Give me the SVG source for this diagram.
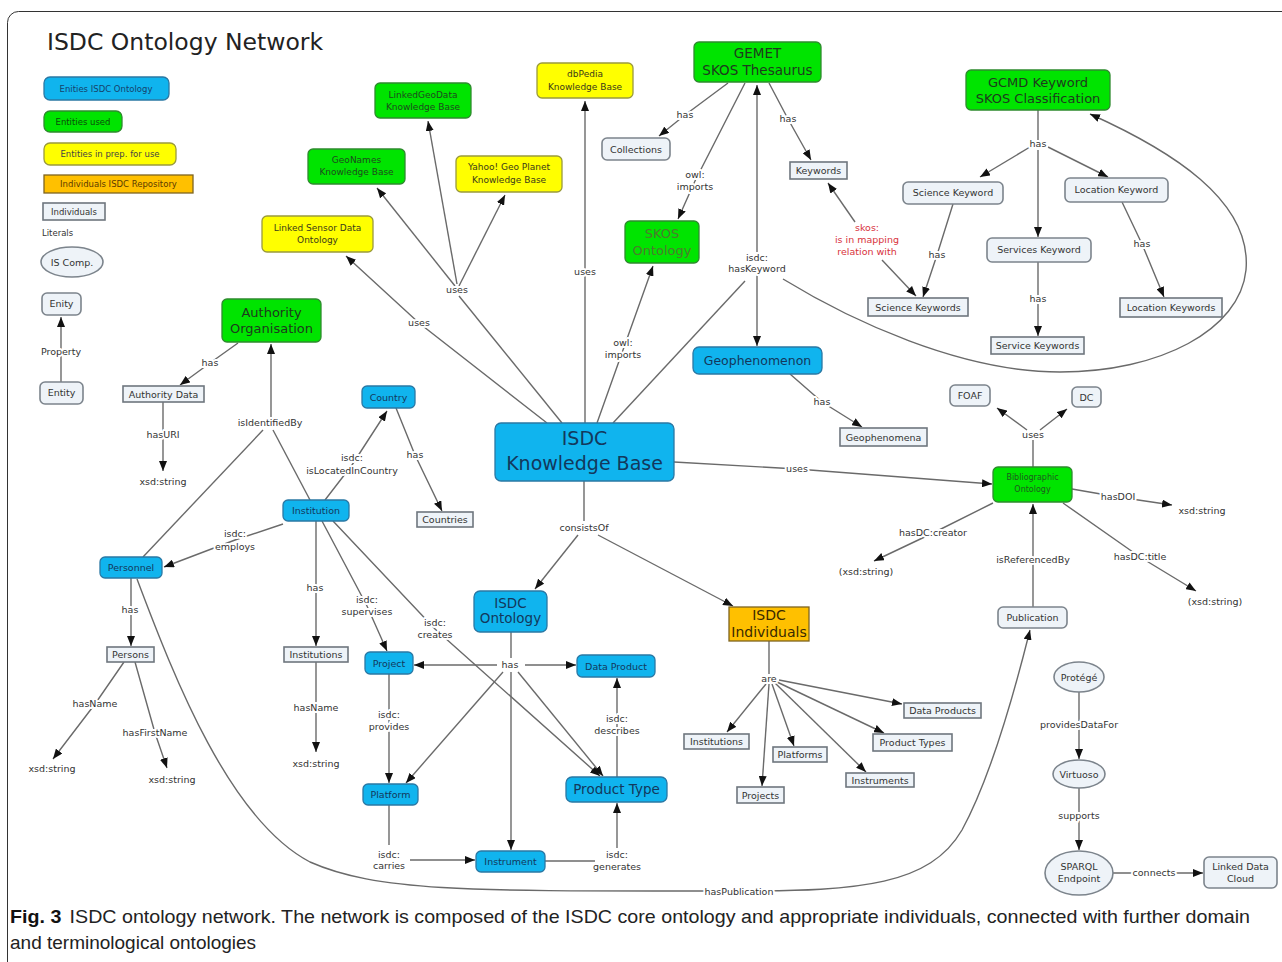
<svg xmlns="http://www.w3.org/2000/svg" width="1282" height="962" viewBox="0 0 1282 962">
<defs>
<marker id="ah" markerUnits="userSpaceOnUse" markerWidth="10" markerHeight="8" refX="10" refY="4" orient="auto"><path d="M0,0 L10,4 L0,8 z" fill="#111"/></marker>
<style>
text{font-family:"DejaVu Sans",Verdana,sans-serif;text-anchor:middle}
.blue{fill:#10B4EE;stroke:#2A78A4;stroke-width:1.3}
.green{fill:#00E400;stroke:#2E8A2E;stroke-width:1.3}
.yellow{fill:#FFFF00;stroke:#9A9A3C;stroke-width:1.3}
.orange{fill:#FFC000;stroke:#7E6420;stroke-width:1.3}
.light{fill:#EEF3F8;stroke:#7C848C;stroke-width:1.6}
.sq{fill:#EEF3F8;stroke:#6E767E;stroke-width:1.6}
.tb{fill:#13385C;font-size:9.5px}
.tg{fill:#1E4A1E;font-size:9px}
.ty{fill:#3A3A1A;font-size:9px}
.tl{fill:#333;font-size:9.5px}
.lit{fill:#333;font-size:9.5px}
.lab{fill:#333;font-size:9.5px;stroke:#fff;stroke-width:4px;paint-order:stroke;stroke-linejoin:round}
.red{fill:#D8323C}
.c{fill:none;stroke:#6A6A6A;stroke-width:1.4}
.a{marker-end:url(#ah)}
.cap{font-family:"Liberation Sans",Arial,sans-serif;font-size:19px;text-anchor:start;fill:#222}
</style>
</defs>
<rect x="0" y="0" width="1282" height="962" fill="#fff"/>
<rect x="7.5" y="11.5" width="1320" height="1000" rx="11" fill="none" stroke="#333" stroke-width="1"/>
<text x="47" y="50" style="font-size:23.5px;text-anchor:start;fill:#222">ISDC Ontology Network</text>

<g id="connectors">
<path class="c a" d="M61,382 L61,317"/>
<path class="c a" d="M547,423 L419,323 L346,256"/>
<path class="c" d="M562,423 L459,296"/>
<path class="c a" d="M455,286 L377,188"/>
<path class="c a" d="M457,284 L428,121"/>
<path class="c a" d="M459,286 L505,195"/>
<path class="c a" d="M585,423 L585,101"/>
<path class="c a" d="M597,423 L623,350 L653,266"/>
<path class="c" d="M613,423 L745,281"/>
<path class="c a" d="M757,252 L757,85"/>
<path class="c a" d="M757,275 L757,346"/>
<path class="c a" d="M783,279 C850,320 960,372 1060,372 C1160,372 1240,330 1246,270 C1252,200 1170,150 1090,114"/>
<path class="c a" d="M728,83 L685,115 L659,136"/>
<path class="c a" d="M745,83 L695,181 L678,219"/>
<path class="c a" d="M769,83 L788,119 L811,160"/>
<path class="c a" d="M855,222 L828,183"/>
<path class="c a" d="M882,260 L916,296"/>
<path class="c" d="M1038,110 L1038,140"/>
<path class="c a" d="M1030,147 L980,177"/>
<path class="c a" d="M1038,150 L1038,237"/>
<path class="c a" d="M1048,147 L1108,177"/>
<path class="c a" d="M953,204 L937,255 L923,297"/>
<path class="c a" d="M1038,262 L1038,336"/>
<path class="c a" d="M1122,202 L1142,244 L1164,297"/>
<path class="c a" d="M790,374 L822,402 L862,427"/>
<path class="c a" d="M674,462 L797,469 L992,484"/>
<path class="c" d="M1033,467 L1033,440"/>
<path class="c a" d="M1027,430 L997,408"/>
<path class="c a" d="M1040,430 L1067,409"/>
<path class="c a" d="M1072,489 L1118,497 L1172,505"/>
<path class="c a" d="M993,503 L933,533 L874,561"/>
<path class="c a" d="M1063,503 L1140,557 L1196,591"/>
<path class="c a" d="M1033,607 L1033,504"/>
<path class="c a" d="M238,343 L210,363 L180,385"/>
<path class="c a" d="M163,402 L163,471"/>
<path class="c a" d="M271,417 L271,344"/>
<path class="c" d="M263,430 L143,557"/>
<path class="c" d="M273,430 L310,500"/>
<path class="c a" d="M325,500 L352,465 L387,411"/>
<path class="c a" d="M396,408 L415,455 L442,511"/>
<path class="c a" d="M283,524 L235,540 L164,567"/>
<path class="c a" d="M131,578 L131,646"/>
<path class="c a" d="M124,662 L95,704 L53,759"/>
<path class="c a" d="M135,662 L155,733 L167,768"/>
<path class="c a" d="M137,579 C175,680 230,820 310,862 C380,893 480,891 740,891 C860,891 930,885 962,830 C992,775 1015,690 1030,630"/>
<path class="c a" d="M316,521 L316,646"/>
<path class="c a" d="M316,662 L316,752"/>
<path class="c a" d="M322,521 L367,606 L387,651"/>
<path class="c a" d="M333,521 L435,629 L600,776"/>
<path class="c" d="M511,632 L511,658"/>
<path class="c a" d="M497,665 L414,665"/>
<path class="c a" d="M525,665 L576,665"/>
<path class="c a" d="M503,672 L406,783"/>
<path class="c a" d="M511,672 L511,850"/>
<path class="c a" d="M518,672 L603,776"/>
<path class="c a" d="M389,674 L389,783"/>
<path class="c" d="M389,805 L389,845"/>
<path class="c a" d="M410,860 L475,860"/>
<path class="c" d="M545,861 L595,861"/>
<path class="c a" d="M617,848 L617,803"/>
<path class="c a" d="M617,777 L617,678"/>
<path class="c" d="M584,481 L584,521"/>
<path class="c a" d="M578,535 L535,589"/>
<path class="c a" d="M598,535 L733,606"/>
<path class="c" d="M769,641 L769,674"/>
<path class="c a" d="M766,684 L727,732"/>
<path class="c a" d="M769,684 L762,786"/>
<path class="c a" d="M772,684 L794,746"/>
<path class="c a" d="M775,683 L866,772"/>
<path class="c a" d="M777,682 L884,733"/>
<path class="c a" d="M779,680 L902,704"/>
<path class="c a" d="M1079,692 L1079,759"/>
<path class="c a" d="M1079,788 L1079,850"/>
<path class="c a" d="M1113,873 L1203,873"/>
</g>

<g id="connector-labels">
<text class="lab" x="61" y="355">Property</text>
<text class="lab" x="457" y="293">uses</text>
<text class="lab" x="419" y="326">uses</text>
<text class="lab" x="585" y="275">uses</text>
<text class="lab" x="797" y="472">uses</text>
<text class="lab" x="1033" y="438">uses</text>
<text class="lab" x="623" y="346">owl:</text>
<text class="lab" x="623" y="358">imports</text>
<text class="lab" x="695" y="178">owl:</text>
<text class="lab" x="695" y="190">imports</text>
<text class="lab" x="685" y="118">has</text>
<text class="lab" x="788" y="122">has</text>
<text class="lab" x="757" y="261">isdc:</text>
<text class="lab" x="757" y="272">hasKeyword</text>
<text class="lab red" x="867" y="231">skos:</text>
<text class="lab red" x="867" y="243">is in mapping</text>
<text class="lab red" x="867" y="255">relation with</text>
<text class="lab" x="1038" y="147">has</text>
<text class="lab" x="937" y="258">has</text>
<text class="lab" x="1038" y="302">has</text>
<text class="lab" x="1142" y="247">has</text>
<text class="lab" x="822" y="405">has</text>
<text class="lab" x="1118" y="500">hasDOI</text>
<text class="lab" x="933" y="536">hasDC:creator</text>
<text class="lab" x="1140" y="560">hasDC:title</text>
<text class="lab" x="1033" y="563">isReferencedBy</text>
<text class="lab" x="210" y="366">has</text>
<text class="lab" x="163" y="438">hasURI</text>
<text class="lab" x="270" y="426">isIdentifiedBy</text>
<text class="lab" x="352" y="461">isdc:</text>
<text class="lab" x="352" y="474">isLocatedInCountry</text>
<text class="lab" x="415" y="458">has</text>
<text class="lab" x="235" y="537">isdc:</text>
<text class="lab" x="235" y="550">employs</text>
<text class="lab" x="130" y="613">has</text>
<text class="lab" x="95" y="707">hasName</text>
<text class="lab" x="155" y="736">hasFirstName</text>
<text class="lab" x="315" y="591">has</text>
<text class="lab" x="316" y="711">hasName</text>
<text class="lab" x="367" y="603">isdc:</text>
<text class="lab" x="367" y="615">supervises</text>
<text class="lab" x="435" y="626">isdc:</text>
<text class="lab" x="435" y="638">creates</text>
<text class="lab" x="510" y="668">has</text>
<text class="lab" x="389" y="718">isdc:</text>
<text class="lab" x="389" y="730">provides</text>
<text class="lab" x="389" y="858">isdc:</text>
<text class="lab" x="389" y="869">carries</text>
<text class="lab" x="617" y="858">isdc:</text>
<text class="lab" x="617" y="870">generates</text>
<text class="lab" x="617" y="722">isdc:</text>
<text class="lab" x="617" y="734">describes</text>
<text class="lab" x="584" y="531">consistsOf</text>
<text class="lab" x="769" y="682">are</text>
<text class="lab" x="1079" y="728">providesDataFor</text>
<text class="lab" x="1079" y="819">supports</text>
<text class="lab" x="1154" y="876">connects</text>
<text class="lab" x="739" y="895">hasPublication</text>
</g>

<g id="legend-blue"><rect class="blue" x="44" y="77" width="125" height="23" rx="6"/><text x="106" y="91.5" style="fill:#16426B;font-size:8.5px">Enities ISDC Ontology</text></g>
<g id="legend-green"><rect class="green" x="44" y="111" width="78" height="21" rx="6"/><text x="83" y="124.5" style="fill:#0B4D0B;font-size:8.5px">Entities used</text></g>
<g id="legend-yellow"><rect class="yellow" x="44" y="143" width="132" height="22" rx="6"/><text x="110" y="157" style="fill:#444;font-size:8.5px">Entities in prep. for use</text></g>
<g id="legend-orange"><rect class="orange" x="44" y="175" width="149" height="18"/><text x="118.5" y="187" style="fill:#5A3A00;font-size:8.5px">Individuals ISDC Repository</text></g>
<g id="legend-individuals"><rect class="sq" x="43" y="203" width="62" height="17"/><text x="74" y="214.5" style="fill:#333;font-size:8.5px">Individuals</text></g>
<g id="legend-literals"><text x="42" y="236" style="fill:#333;font-size:8.5px;text-anchor:start">Literals</text></g>
<g id="legend-iscomp"><ellipse class="light" cx="72" cy="262" rx="31" ry="15"/><text class="tl" x="72" y="265.5">IS Comp.</text></g>
<g id="legend-enity"><rect class="light" x="42" y="293" width="39" height="22" rx="5"/><text class="tl" x="61.5" y="307">Enity</text></g>
<g id="legend-entity"><rect class="light" x="40" y="382" width="43" height="22" rx="5"/><text class="tl" x="61.5" y="396">Entity</text></g>

<g id="linkedgeodata"><rect class="green" x="375" y="83" width="96" height="35" rx="5"/><text class="tg" x="423" y="98">LinkedGeoData</text><text class="tg" x="423" y="110">Knowledge Base</text></g>
<g id="geonames"><rect class="green" x="308" y="149" width="97" height="35" rx="5"/><text class="tg" x="356.5" y="163">GeoNames</text><text class="tg" x="356.5" y="175">Knowledge Base</text></g>
<g id="yahoo"><rect class="yellow" x="456" y="156" width="106" height="36" rx="5"/><text class="ty" x="509" y="170">Yahoo! Geo Planet</text><text class="ty" x="509" y="183">Knowledge Base</text></g>
<g id="linkedsensor"><rect class="yellow" x="262" y="216" width="111" height="36" rx="5"/><text class="ty" x="317.5" y="231">Linked Sensor Data</text><text class="ty" x="317.5" y="243">Ontology</text></g>
<g id="dbpedia"><rect class="yellow" x="537" y="63" width="96" height="35" rx="5"/><text class="ty" x="585" y="77">dbPedia</text><text class="ty" x="585" y="90">Knowledge Base</text></g>
<g id="gemet"><rect class="green" x="694" y="42" width="127" height="40" rx="5"/><text x="757.5" y="58" style="fill:#1E3A1E;font-size:13.5px">GEMET</text><text x="757.5" y="75" style="fill:#1E3A1E;font-size:13.5px">SKOS Thesaurus</text></g>
<g id="collections"><rect class="light" x="602" y="138" width="68" height="22" rx="5"/><text class="tl" x="636" y="152.5">Collections</text></g>
<g id="keywords"><rect class="sq" x="790" y="162" width="57" height="17"/><text class="tl" x="818.5" y="174">Keywords</text></g>
<g id="skos-ontology"><rect class="green" x="625" y="221" width="74" height="42" rx="5"/><text x="662" y="237.5" style="fill:#4E7A2E;font-size:13px">SKOS</text><text x="662" y="254.5" style="fill:#4E7A2E;font-size:13px">Ontology</text></g>
<g id="gcmd"><rect class="green" x="966" y="70" width="144" height="40" rx="5"/><text x="1038" y="86.5" style="fill:#1E3A1E;font-size:13px">GCMD Keyword</text><text x="1038" y="102.5" style="fill:#1E3A1E;font-size:13px">SKOS Classification</text></g>
<g id="science-keyword"><rect class="light" x="903" y="182" width="100" height="22" rx="5"/><text class="tl" x="953" y="196">Science Keyword</text></g>
<g id="location-keyword"><rect class="light" x="1065" y="178" width="103" height="24" rx="5"/><text class="tl" x="1116.5" y="193">Location Keyword</text></g>
<g id="services-keyword"><rect class="light" x="987" y="238" width="104" height="24" rx="5"/><text class="tl" x="1039" y="253">Services Keyword</text></g>
<g id="science-keywords"><rect class="sq" x="868" y="298" width="100" height="18"/><text class="tl" x="918" y="310.5">Science Keywords</text></g>
<g id="service-keywords"><rect class="sq" x="991" y="337" width="93" height="17"/><text class="tl" x="1037.5" y="349">Service Keywords</text></g>
<g id="location-keywords"><rect class="sq" x="1120" y="298" width="102" height="19"/><text class="tl" x="1171" y="311">Location Keywords</text></g>
<g id="geophenomenon"><rect class="blue" x="693" y="347" width="129" height="27" rx="6"/><text x="757.5" y="365" style="fill:#13385C;font-size:12.5px">Geophenomenon</text></g>
<g id="geophenomena"><rect class="sq" x="840" y="428" width="87" height="18"/><text class="tl" x="883.5" y="440.5">Geophenomena</text></g>
<g id="bibliographic"><rect class="green" x="993" y="467" width="79" height="35" rx="5"/><text x="1032.5" y="480" style="fill:#1E5A1E;font-size:8px">Bibliographic</text><text x="1032.5" y="492" style="fill:#1E5A1E;font-size:8px">Ontology</text></g>
<g id="foaf"><rect class="light" x="950" y="385" width="40" height="21" rx="5"/><text class="tl" x="970" y="399">FOAF</text></g>
<g id="dc"><rect class="light" x="1072" y="387" width="29" height="20" rx="5"/><text class="tl" x="1086.5" y="400.5">DC</text></g>
<g id="publication"><rect class="light" x="998" y="607" width="69" height="21" rx="5"/><text class="tl" x="1032.5" y="621">Publication</text></g>
<g id="lit-doi"><text class="lit" x="1202" y="514">xsd:string</text></g>
<g id="lit-creator"><text class="lit" x="866" y="575">(xsd:string)</text></g>
<g id="lit-title"><text class="lit" x="1215" y="605">(xsd:string)</text></g>

<g id="authority-org"><rect class="green" x="222" y="299" width="99" height="43" rx="5"/><text x="271.5" y="316.5" style="fill:#1E3A1E;font-size:13px">Authority</text><text x="271.5" y="332.5" style="fill:#1E3A1E;font-size:13px">Organisation</text></g>
<g id="authority-data"><rect class="sq" x="123" y="386" width="81" height="16"/><text class="tl" x="163.5" y="397.5">Authority Data</text></g>
<g id="lit-uri"><text class="lit" x="163" y="485">xsd:string</text></g>
<g id="country"><rect class="blue" x="362" y="386" width="53" height="22" rx="5"/><text class="tb" x="388.5" y="400.5">Country</text></g>
<g id="countries"><rect class="sq" x="417" y="512" width="56" height="15"/><text class="tl" x="445" y="523">Countries</text></g>
<g id="institution"><rect class="blue" x="283" y="500" width="66" height="21" rx="5"/><text class="tb" x="316" y="514">Institution</text></g>
<g id="personnel"><rect class="blue" x="100" y="557" width="62" height="21" rx="5"/><text class="tb" x="131" y="571">Personnel</text></g>
<g id="persons"><rect class="sq" x="107" y="647" width="47" height="15"/><text class="tl" x="130.5" y="658">Persons</text></g>
<g id="lit-name"><text class="lit" x="52" y="772">xsd:string</text></g>
<g id="lit-firstname"><text class="lit" x="172" y="783">xsd:string</text></g>
<g id="institutions-l"><rect class="sq" x="284" y="647" width="64" height="15"/><text class="tl" x="316" y="658">Institutions</text></g>
<g id="lit-instname"><text class="lit" x="316" y="767">xsd:string</text></g>

<g id="knowledge-base"><rect class="blue" x="495" y="423" width="179" height="58" rx="6"/><text x="584.5" y="445" style="fill:#13385C;font-size:19px">ISDC</text><text x="584.5" y="470" style="fill:#13385C;font-size:19px">Knowledge Base</text></g>
<g id="isdc-ontology"><rect class="blue" x="474" y="591" width="73" height="41" rx="6"/><text x="510.5" y="607.5" style="fill:#13385C;font-size:13.5px">ISDC</text><text x="510.5" y="622.5" style="fill:#13385C;font-size:13.5px">Ontology</text></g>
<g id="project"><rect class="blue" x="365" y="652" width="48" height="22" rx="5"/><text class="tb" x="389" y="666.5">Project</text></g>
<g id="data-product"><rect class="blue" x="577" y="655" width="78" height="22" rx="5"/><text class="tb" x="616" y="669.5">Data Product</text></g>
<g id="platform"><rect class="blue" x="363" y="784" width="55" height="21" rx="5"/><text class="tb" x="390.5" y="798">Platform</text></g>
<g id="product-type"><rect class="blue" x="566" y="777" width="101" height="25" rx="6"/><text x="616.5" y="794" style="fill:#13385C;font-size:13.5px">Product Type</text></g>
<g id="instrument"><rect class="blue" x="476" y="851" width="69" height="21" rx="5"/><text class="tb" x="510.5" y="865">Instrument</text></g>

<g id="isdc-individuals"><rect class="orange" x="729" y="607" width="80" height="34"/><text x="769" y="620" style="fill:#3A2A00;font-size:14px">ISDC</text><text x="769" y="637" style="fill:#3A2A00;font-size:14px">Individuals</text></g>
<g id="institutions-r"><rect class="sq" x="684" y="734" width="65" height="15"/><text class="tl" x="716.5" y="745">Institutions</text></g>
<g id="projects"><rect class="sq" x="737" y="787" width="47" height="16"/><text class="tl" x="760.5" y="799">Projects</text></g>
<g id="platforms"><rect class="sq" x="773" y="747" width="54" height="15"/><text class="tl" x="800" y="758">Platforms</text></g>
<g id="instruments"><rect class="sq" x="846" y="773" width="68" height="14"/><text class="tl" x="880" y="784">Instruments</text></g>
<g id="product-types"><rect class="sq" x="873" y="734" width="79" height="17"/><text class="tl" x="912.5" y="746">Product Types</text></g>
<g id="data-products"><rect class="sq" x="904" y="703" width="77" height="15"/><text class="tl" x="942.5" y="714">Data Products</text></g>

<g id="protege"><ellipse class="light" cx="1079" cy="677" rx="25" ry="15"/><text class="tl" x="1079" y="680.5">Protégé</text></g>
<g id="virtuoso"><ellipse class="light" cx="1079" cy="774" rx="26" ry="14"/><text class="tl" x="1079" y="777.5">Virtuoso</text></g>
<g id="sparql"><ellipse class="light" cx="1079" cy="873" rx="34" ry="22"/><text class="tl" x="1079" y="870">SPARQL</text><text class="tl" x="1079" y="881.5">Endpoint</text></g>
<g id="linked-data-cloud"><rect class="light" x="1204" y="857" width="73" height="31" rx="5"/><text class="tl" x="1240.5" y="870">Linked Data</text><text class="tl" x="1240.5" y="882">Cloud</text></g>

<g id="caption">
<text class="cap" x="10" y="923" textLength="1240" lengthAdjust="spacingAndGlyphs"><tspan style="font-weight:bold;fill:#111">Fig. 3</tspan><tspan dx="8">ISDC ontology network. The network is composed of the ISDC core ontology and appropriate individuals, connected with further domain</tspan></text>
<text class="cap" x="10" y="949">and terminological ontologies</text>
</g>
</svg>
